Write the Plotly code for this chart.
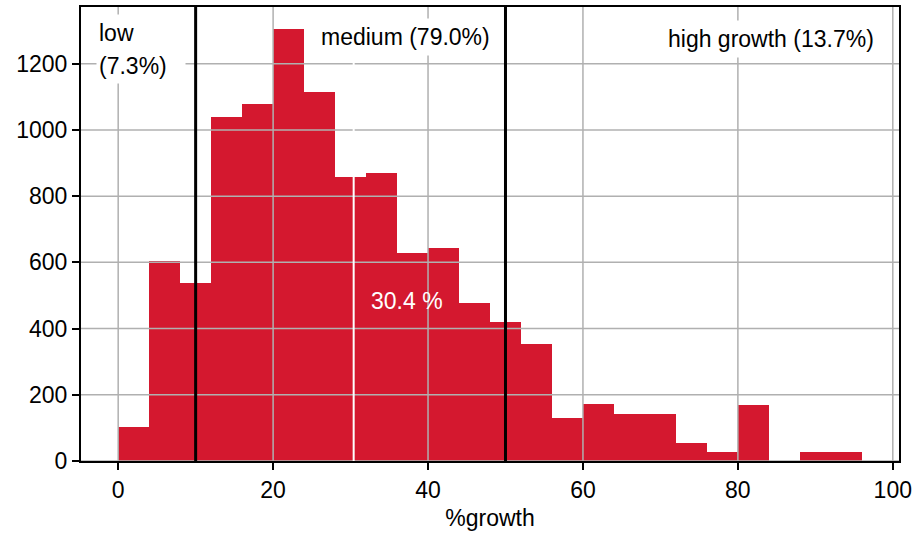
import plotly.graph_objects as go

# Histogram of company growth rates, 4-point bins from 0 to 96
bin_edges = list(range(0, 100, 4))
counts = [102, 605, 538, 1038, 1077, 1306, 1114, 858, 870, 629,
          644, 478, 421, 352, 129, 171, 141, 141, 53, 26,
          168, 0, 26, 26]

mean_growth = 30.4
thresholds = [10, 50]
x_ticks = [0, 20, 40, 60, 80, 100]
y_ticks = [0, 200, 400, 600, 800, 1000, 1200]

low_label = ["low", "(7.3%)"]
medium_label = "medium (79.0%)"
high_label = "high growth (13.7%)"

bar_color = "#D4182F"
grid_color = "#b0b0b0"
font_family = "Liberation Sans, Arial, sans-serif"
fs = 23

bin_width = bin_edges[1] - bin_edges[0]
centers = [e + bin_width / 2 for e in bin_edges[:len(counts)]]

fig = go.Figure()
fig.add_trace(go.Bar(
    x=centers, y=counts, width=bin_width,
    marker=dict(color=bar_color, line=dict(width=0)),
    hoverinfo="x+y", showlegend=False,
))

x_min, x_max = -4.8, 100.8
y_max = max(counts) * 1.05

shapes = []
# grid lines drawn over the bars
for xv in x_ticks:
    shapes.append(dict(type="line", xref="x", yref="paper", x0=xv, x1=xv, y0=0, y1=1,
                       line=dict(color=grid_color, width=1.5), layer="above"))
for yv in y_ticks:
    shapes.append(dict(type="line", xref="paper", yref="y", x0=0, x1=1, y0=yv, y1=yv,
                       line=dict(color=grid_color, width=1.5), layer="above"))
# mean marker
shapes.append(dict(type="line", xref="x", yref="paper", x0=mean_growth, x1=mean_growth,
                   y0=0, y1=1, line=dict(color="white", width=2), layer="above"))
# segment boundaries
for t in thresholds:
    shapes.append(dict(type="line", xref="x", yref="paper", x0=t, x1=t, y0=0, y1=1,
                       line=dict(color="black", width=3), layer="above"))

txt = dict(size=fs, color="black", family=font_family)
annotations = [
    # two-line "low" label, one white box per line
    dict(x=-2.9, y=1351, xref="x", yref="y", text=low_label[0], showarrow=False,
         xanchor="left", yanchor="top", align="left", bgcolor="white",
         width=84, height=31, borderpad=2, valign="middle", font=txt),
    dict(x=-2.9, y=1246, xref="x", yref="y", text=low_label[1],
         showarrow=False, xanchor="left", yanchor="top", align="left", bgcolor="white",
         width=84, height=30, borderpad=2, valign="middle", font=txt),
    dict(x=48.8, y=1282, xref="x", yref="y", text=medium_label, showarrow=False,
         xanchor="right", yanchor="middle", bgcolor="white", borderpad=5, font=txt),
    dict(x=98.4, y=1276, xref="x", yref="y", text=high_label, showarrow=False,
         xanchor="right", yanchor="middle", bgcolor="white", borderpad=5, font=txt),
    dict(x=mean_growth + 2, y=484, xref="x", yref="y", text=f"{mean_growth} %",
         showarrow=False, xanchor="left", yanchor="middle",
         font=dict(size=fs, color="white", family=font_family)),
]

fig.update_layout(
    width=917, height=536,
    margin=dict(l=81, r=17, t=5, b=75),
    paper_bgcolor="white", plot_bgcolor="white",
    bargap=0,
    font=dict(family=font_family, size=fs, color="black"),
    shapes=shapes, annotations=annotations,
)
fig.update_xaxes(
    range=[x_min, x_max], tickvals=x_ticks, showgrid=False, zeroline=False,
    showline=True, mirror=True, linecolor="black", linewidth=2,
    ticks="outside", ticklen=7, tickwidth=1.5, tickcolor="black",
    tickfont=dict(size=fs), title=dict(text="%growth", font=dict(size=fs), standoff=8),
)
fig.update_yaxes(
    range=[0, y_max], tickvals=y_ticks, showgrid=False, zeroline=False,
    showline=True, mirror=True, linecolor="black", linewidth=2,
    ticks="outside", ticklen=7, tickwidth=1.5, tickcolor="black",
    tickfont=dict(size=fs),
)

fig.write_html("out.html")
